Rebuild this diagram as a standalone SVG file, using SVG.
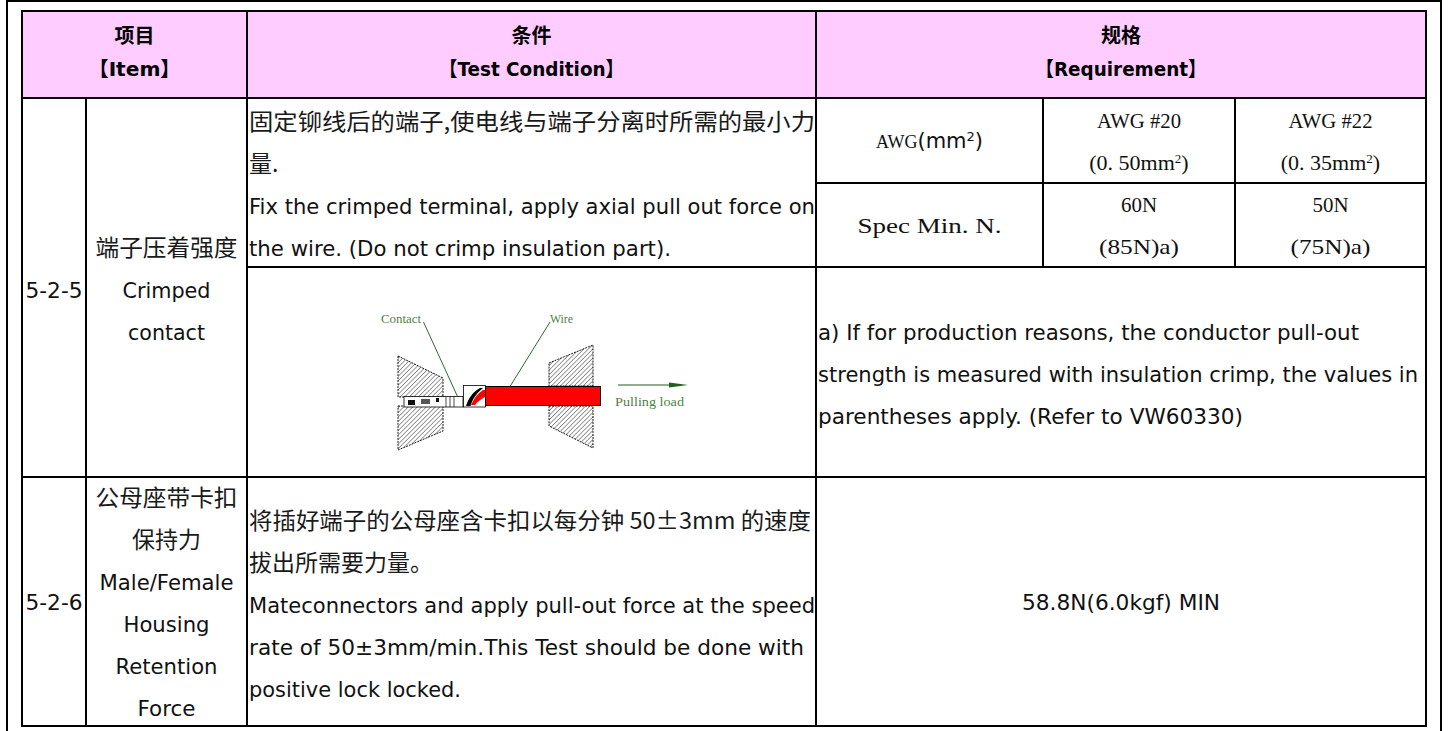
<svg xmlns="http://www.w3.org/2000/svg" width="1448" height="731" viewBox="0 0 1448 731">
<style>
.ln{stroke:#000;stroke-width:2;fill:none}
.hcn{font-family:"Noto Sans CJK SC","DejaVu Sans",sans-serif;font-weight:bold;font-size:20px;fill:#000;text-anchor:middle}
.hen{font-family:"DejaVu Sans","Noto Sans CJK SC",sans-serif;font-weight:bold;font-size:20px;fill:#000;text-anchor:middle}
.cn{font-family:"Noto Sans CJK SC",sans-serif;font-size:23px;fill:#1a1a1a}
.en{font-family:"DejaVu Sans","Noto Sans CJK SC",sans-serif;font-size:22px;fill:#111}
.ss{font-family:"Liberation Serif","Noto Sans CJK SC",serif;font-size:22px;fill:#111;text-anchor:middle}
.sans{font-family:"DejaVu Sans",sans-serif}
.mid{text-anchor:middle}
.fl{font-family:"Liberation Serif",serif;font-size:13px;fill:#4f7f45}
.lead{stroke:#2f6a2f;stroke-width:1;fill:none}
.blk{fill:url(#hatch);stroke:#000;stroke-width:0.9;stroke-dasharray:2 1}
</style>
<defs>
<pattern id="hatch" width="3.2" height="3.2" patternUnits="userSpaceOnUse" patternTransform="rotate(45)">
<rect width="3.2" height="3.2" fill="#fff"/>
<line x1="0" y1="0" x2="0" y2="3.2" stroke="#222" stroke-width="0.9"/>
</pattern>
</defs>
<rect width="1448" height="731" fill="#fff"/>
<g id="frame">
<path class="ln" d="M7,740 V1 H1441 V740"/>
</g>
<g id="header">
<rect x="22" y="11" width="1404" height="87" fill="#FFCCFF"/>
<text class="hcn" x="134.5" y="43">项目</text>
<text class="hen" x="134.5" y="76" textLength="92" lengthAdjust="spacingAndGlyphs">【Item】</text>
<text class="hcn" x="531.5" y="43">条件</text>
<text class="hen" x="531.5" y="76" textLength="185" lengthAdjust="spacingAndGlyphs">【Test Condition】</text>
<text class="hcn" x="1121" y="43">规格</text>
<text class="hen" x="1121" y="76" textLength="171" lengthAdjust="spacingAndGlyphs">【Requirement】</text>
</g>
<g id="row-5-2-5">
<text class="en mid" x="54" y="298" textLength="57" lengthAdjust="spacingAndGlyphs">5-2-5</text>
<text class="cn mid" x="166.5" y="256" textLength="142" lengthAdjust="spacingAndGlyphs">端子压着强度</text>
<text class="en mid" x="166.5" y="298" textLength="88" lengthAdjust="spacingAndGlyphs">Crimped</text>
<text class="en mid" x="166.5" y="340" textLength="77" lengthAdjust="spacingAndGlyphs">contact</text>
<text class="cn" x="249" y="130" textLength="566" lengthAdjust="spacingAndGlyphs">固定铆线后的端子,使电线与端子分离时所需的最小力</text>
<text class="cn" x="249" y="172">量.</text>
<text class="en" x="249" y="214" textLength="566" lengthAdjust="spacingAndGlyphs">Fix the crimped terminal, apply axial pull out force on</text>
<text class="en" x="249" y="256" textLength="422" lengthAdjust="spacingAndGlyphs">the wire. (Do not crimp insulation part).</text>
<text class="ss" x="929.5" y="148" style="font-size:18px">AWG<tspan class="sans" style="font-size:21px">(mm</tspan><tspan class="sans" style="font-size:13px" baseline-shift="super">2</tspan><tspan class="sans" style="font-size:21px">)</tspan></text>
<text class="ss" x="1139" y="128" textLength="84" lengthAdjust="spacingAndGlyphs">AWG #20</text>
<text class="ss" x="1139" y="170">(0. 50mm<tspan style="font-size:13px" baseline-shift="super">2</tspan>)</text>
<text class="ss" x="1330.5" y="128" textLength="84" lengthAdjust="spacingAndGlyphs">AWG #22</text>
<text class="ss" x="1330.5" y="170">(0. 35mm<tspan style="font-size:13px" baseline-shift="super">2</tspan>)</text>
<text class="ss" x="929.5" y="233" textLength="144" lengthAdjust="spacingAndGlyphs">Spec Min. N.</text>
<text class="ss" x="1139" y="212" textLength="36" lengthAdjust="spacingAndGlyphs">60N</text>
<text class="ss" x="1139" y="254" textLength="80" lengthAdjust="spacingAndGlyphs">(85N)a)</text>
<text class="ss" x="1330.5" y="212" textLength="36" lengthAdjust="spacingAndGlyphs">50N</text>
<text class="ss" x="1330.5" y="254" textLength="80" lengthAdjust="spacingAndGlyphs">(75N)a)</text>
<text class="en" x="818" y="340" textLength="541" lengthAdjust="spacingAndGlyphs">a) If for production reasons, the conductor pull-out</text>
<text class="en" x="818" y="382" textLength="600" lengthAdjust="spacingAndGlyphs">strength is measured with insulation crimp, the values in</text>
<text class="en" x="818" y="424" textLength="425" lengthAdjust="spacingAndGlyphs">parentheses apply. (Refer to VW60330)</text>
</g>
<g id="figure">
<polygon class="blk" points="398,356 443,378 443,397 398,397"/>
<polygon class="blk" points="398,406 443,406 443,431 398,450"/>
<polygon class="blk" points="549,363 593,345 593,386 549,386"/>
<polygon class="blk" points="549,406 593,406 593,448 549,426"/>
<rect x="404" y="396.5" width="59" height="10.5" fill="#fff" stroke="#000" stroke-width="0.8"/>
<rect x="408" y="400" width="7" height="5" fill="#111"/>
<rect x="421" y="399" width="9" height="5" fill="#555"/>
<rect x="436" y="398" width="3" height="4" fill="#111"/>
<line x1="446" y1="397" x2="446" y2="407" stroke="#000" stroke-width="0.7"/>
<line x1="450" y1="397" x2="450" y2="407" stroke="#000" stroke-width="0.7"/>
<line x1="454" y1="397" x2="454" y2="407" stroke="#000" stroke-width="0.7"/>
<rect x="463.5" y="385.5" width="22" height="21.5" fill="#fff" stroke="#000" stroke-width="0.8"/>
<path d="M466,406 C469,397 473,392 480,388 L483,388 C477,393 473,398 470.5,406 Z" fill="#000"/>
<path d="M471,405 C474,398 478,393 483,390 L485,390 L485,397 C481,399 477,402 475,405 Z" fill="#f00"/>
<rect x="485.5" y="386.5" width="115" height="19" fill="#f00" stroke="#000" stroke-width="1"/>
<text class="fl" x="381" y="323" textLength="40" lengthAdjust="spacingAndGlyphs">Contact</text>
<text class="fl" x="550" y="323" textLength="23" lengthAdjust="spacingAndGlyphs">Wire</text>
<text class="fl" x="615" y="406" textLength="69" lengthAdjust="spacingAndGlyphs">Pulling load</text>
</g>
<g id="connectors">
<line class="lead" x1="423.5" y1="322" x2="457.5" y2="396.5"/>
<line class="lead" x1="550" y1="322" x2="510" y2="386.5"/>
<line x1="618" y1="385" x2="672" y2="385" stroke="#1f5f1f" stroke-width="1"/>
<polygon points="669,382.5 688,385 669,387.5" fill="#1f5f1f"/>
</g>
<g id="row-5-2-6">
<text class="en mid" x="54" y="610" textLength="57" lengthAdjust="spacingAndGlyphs">5-2-6</text>
<text class="cn mid" x="166.5" y="506" textLength="142" lengthAdjust="spacingAndGlyphs">公母座带卡扣</text>
<text class="cn mid" x="166.5" y="548">保持力</text>
<text class="en mid" x="166.5" y="590" textLength="134" lengthAdjust="spacingAndGlyphs">Male/Female</text>
<text class="en mid" x="166.5" y="632" textLength="86" lengthAdjust="spacingAndGlyphs">Housing</text>
<text class="en mid" x="166.5" y="674" textLength="102" lengthAdjust="spacingAndGlyphs">Retention</text>
<text class="en mid" x="166.5" y="716" textLength="58" lengthAdjust="spacingAndGlyphs">Force</text>
<text class="cn" x="249" y="529" textLength="562" lengthAdjust="spacingAndGlyphs">将插好端子的公母座含卡扣以每分钟 50±3mm 的速度</text>
<text class="cn" x="249" y="571">拔出所需要力量。</text>
<text class="en" x="249" y="613" textLength="566" lengthAdjust="spacingAndGlyphs">Mateconnectors and apply pull-out force at the speed</text>
<text class="en" x="249" y="655" textLength="555" lengthAdjust="spacingAndGlyphs">rate of 50±3mm/min.This Test should be done with</text>
<text class="en" x="249" y="697" textLength="212" lengthAdjust="spacingAndGlyphs">positive lock locked.</text>
<text class="en mid" x="1121" y="610" textLength="198" lengthAdjust="spacingAndGlyphs">58.8N(6.0kgf) MIN</text>
</g>
<g id="grid">
<rect class="ln" x="22" y="11" width="1404" height="715"/>
<line class="ln" x1="22" y1="98" x2="1426" y2="98"/>
<line class="ln" x1="22" y1="477" x2="1426" y2="477"/>
<line class="ln" x1="247" y1="267" x2="1426" y2="267"/>
<line class="ln" x1="816" y1="183" x2="1426" y2="183"/>
<line class="ln" x1="86" y1="98" x2="86" y2="726"/>
<line class="ln" x1="247" y1="11" x2="247" y2="726"/>
<line class="ln" x1="816" y1="11" x2="816" y2="726"/>
<line class="ln" x1="1043" y1="98" x2="1043" y2="267"/>
<line class="ln" x1="1235" y1="98" x2="1235" y2="267"/>
</g>
</svg>
